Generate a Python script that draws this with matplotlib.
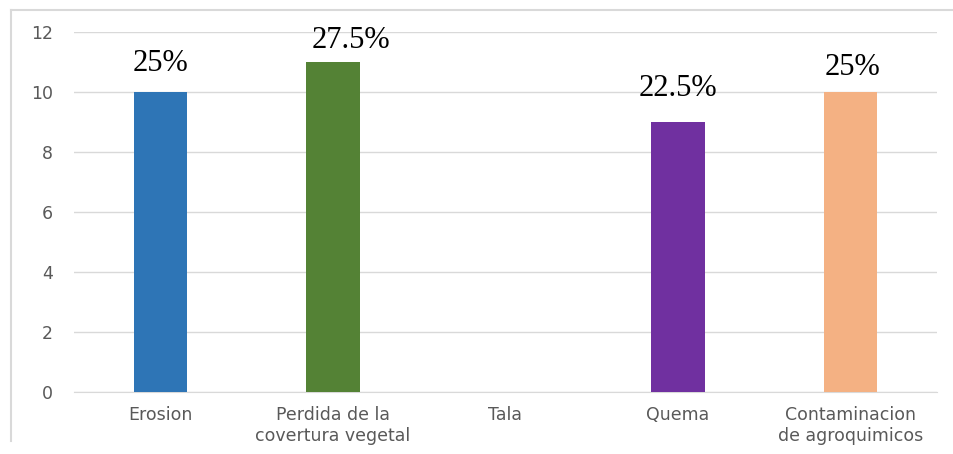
import numpy as np
import matplotlib.pyplot as plt
from matplotlib.lines import Line2D

categories = ['Erosion', 'Perdida de la\ncovertura vegetal', 'Tala', 'Quema',
              'Contaminacion\nde agroquimicos']
values = [10, 11, 0, 9, 10]
labels = ['25%', '27.5%', '', '22.5%', '25%']
colors = ['#2E75B6', '#548235', '#FFFFFF', '#7030A0', '#F4B183']
label_dx = [0, 13, 0, 0, 1]         # points, label shift from bar centre
label_pad = [10, 5, 0, 14, 7]       # points above the bar

fig = plt.figure(figsize=(9.54, 4.54), dpi=100)
ax = fig.add_axes([74 / 954, 1 - 392 / 454, 863 / 954, 360 / 454])

x = np.arange(len(categories))
ax.bar(x, values, width=0.31, color=colors, zorder=3)

for xi, v, lab, dx, pad in zip(x, values, labels, label_dx, label_pad):
    if lab:
        ax.annotate(lab, (xi, v), xytext=(dx, pad), textcoords='offset points',
                    ha='center', va='bottom', fontsize=22,
                    family='Liberation Serif', color='black')

ax.set_xlim(-0.5, len(categories) - 0.5)
ax.set_ylim(0, 12)
ax.set_yticks(np.arange(0, 13, 2))
ax.set_xticks(x)
ax.set_xticklabels(categories, fontsize=12.5, color='#595959', linespacing=1.2)
for t in ax.get_yticklabels():
    t.set_fontsize(12.5)
    t.set_color('#595959')
ax.tick_params(length=0)
ax.tick_params(axis='y', pad=15)
ax.tick_params(axis='x', pad=10)
ax.grid(axis='y', color='#d9d9d9', linewidth=1, zorder=0)
for s in ['top', 'right', 'left']:
    ax.spines[s].set_visible(False)
ax.spines['bottom'].set_color('#d9d9d9')

# outer frame of the chart object
fig.add_artist(Line2D([11 / 954, 1.02], [1 - 10 / 454, 1 - 10 / 454],
                      color='#d9d9d9', linewidth=1.5, transform=fig.transFigure))
fig.add_artist(Line2D([11 / 954, 11 / 954], [1 - 10 / 454, 1 - 441 / 454],
                      color='#d9d9d9', linewidth=1.5, transform=fig.transFigure))

fig.savefig('out.png', dpi=100)
